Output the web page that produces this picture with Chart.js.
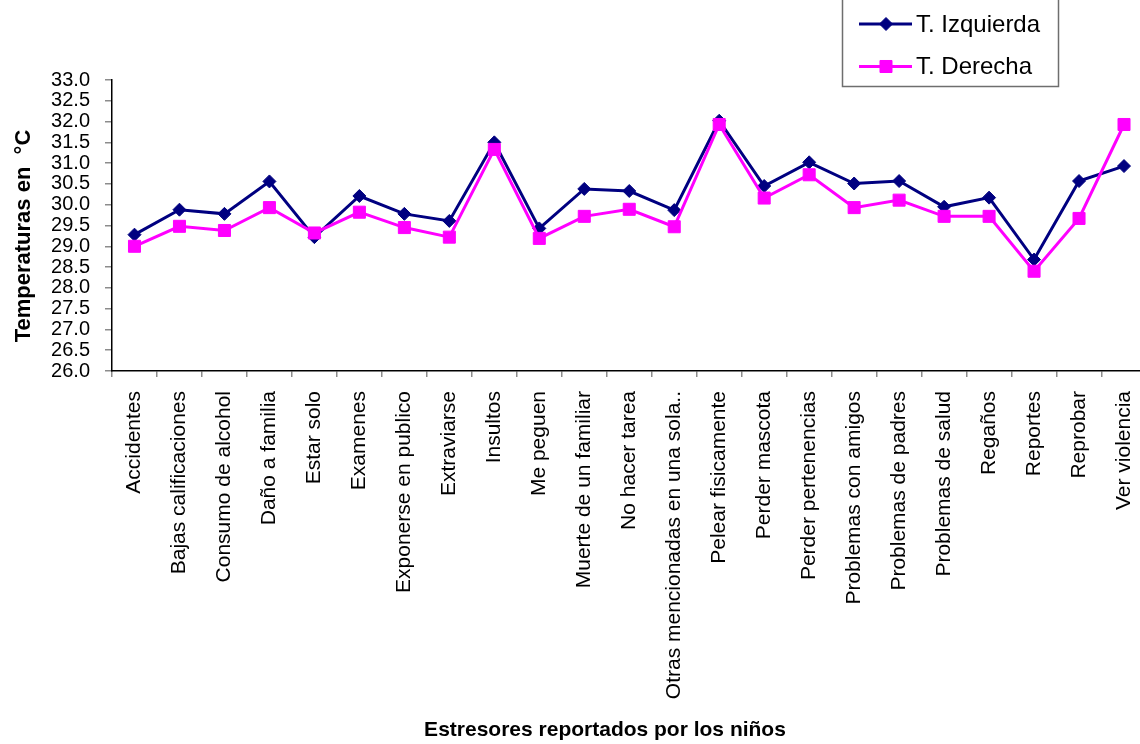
<!DOCTYPE html>
<html>
<head>
<meta charset="utf-8">
<script src="https://cdn.jsdelivr.net/npm/chart.js@4/dist/chart.umd.min.js"></script>
<style>
  html, body { margin: 0; padding: 0; background: #fff; overflow: hidden; }
  #wrap { width: 1156px; height: 744px; }
</style>
</head>
<body>
<div id="wrap"><canvas id="c" width="1156" height="744"></canvas></div>
<script>
// Estresores reportados por los niños (categorías del eje X)
const categories = [
  'Accidentes', 'Bajas calificaciones', 'Consumo de alcohol', 'Daño a familia',
  'Estar solo', 'Examenes', 'Exponerse en publico', 'Extraviarse', 'Insultos',
  'Me peguen', 'Muerte de un familiar', 'No hacer tarea',
  'Otras mencionadas en una sola..', 'Pelear fisicamente', 'Perder mascota',
  'Perder pertenencias', 'Problemas con amigos', 'Problemas de padres',
  'Problemas de salud', 'Regaños', 'Reportes', 'Reprobar', 'Ver violencia'
];

// Temperatura media (°C) por estresor
const izquierda = [29.28, 29.88, 29.78, 30.56, 29.22, 30.21, 29.78, 29.61, 31.50,
  29.43, 30.38, 30.33, 29.87, 32.02, 30.45, 31.02, 30.51, 30.57, 29.95, 30.17,
  28.68, 30.57, 30.93];
const derecha = [29.00, 29.48, 29.38, 29.93, 29.32, 29.82, 29.45, 29.22, 31.33,
  29.19, 29.72, 29.89, 29.47, 31.93, 30.16, 30.72, 29.93, 30.11, 29.72, 29.72,
  28.40, 29.67, 31.93];

const seriesNames = ['T. Izquierda', 'T. Derecha'];
const yTicks = { min: 26, max: 33, step: 0.5 };
const yTitle = 'Temperaturas en  °C';
const xTitle = 'Estresores reportados por los niños';

const FONT = '"Liberation Sans", Arial, Helvetica, sans-serif';
const NAVY = '#000080';
const MAGENTA = '#FF00FF';

// Leyenda con recuadro: línea + marcador de cada serie
const boxLegend = {
  id: 'boxLegend',
  afterDraw(chart) {
    const ctx = chart.ctx;
    ctx.save();
    ctx.strokeStyle = '#6e6e6e';
    ctx.lineWidth = 1.5;
    ctx.strokeRect(842.5, -2, 216, 88.5);
    const rows = [24, 66.5];
    [0, 1].forEach((di, r) => {
      const ds = chart.data.datasets[di];
      const y = rows[r];
      ctx.strokeStyle = ds.borderColor;
      ctx.lineWidth = ds.borderWidth;
      ctx.beginPath();
      ctx.moveTo(859, y);
      ctx.lineTo(912, y);
      ctx.stroke();
      ctx.fillStyle = ds.pointBackgroundColor;
      ctx.strokeStyle = ds.pointBorderColor;
      ctx.lineWidth = 1;
      Chart.helpers.drawPoint(ctx, {
        pointStyle: ds.pointStyle,
        radius: ds.pointRadius,
        borderWidth: 1,
        rotation: 0
      }, 886, y);
      ctx.fillStyle = '#000';
      ctx.font = '24px ' + FONT;
      ctx.textAlign = 'left';
      ctx.textBaseline = 'middle';
      ctx.fillText(ds.label, 916, y + 1);
    });
    ctx.restore();
  }
};

// Títulos de los ejes
const axisTitles = {
  id: 'axisTitles',
  afterDraw(chart) {
    const ctx = chart.ctx;
    ctx.save();
    ctx.fillStyle = '#000';
    ctx.textAlign = 'center';
    ctx.textBaseline = 'middle';
    ctx.font = 'bold 21px ' + FONT;
    ctx.fillText(xTitle, 605, 730);
    ctx.font = 'bold 22px ' + FONT;
    ctx.translate(24, 236);
    ctx.rotate(-Math.PI / 2);
    ctx.fillText(yTitle, 0, 0);
    ctx.restore();
  }
};

new Chart(document.getElementById('c'), {
  type: 'line',
  data: {
    labels: categories,
    datasets: [
      {
        label: seriesNames[0],
        data: izquierda,
        borderColor: NAVY,
        backgroundColor: NAVY,
        pointBackgroundColor: NAVY,
        pointBorderColor: NAVY,
        borderWidth: 3,
        pointStyle: 'rectRot',
        pointRadius: 6.5,
        pointBorderWidth: 1,
        tension: 0,
        order: 1
      },
      {
        label: seriesNames[1],
        data: derecha,
        borderColor: MAGENTA,
        backgroundColor: MAGENTA,
        pointBackgroundColor: MAGENTA,
        pointBorderColor: MAGENTA,
        borderWidth: 3,
        pointStyle: 'rect',
        pointRadius: 8.5,
        pointBorderWidth: 1,
        tension: 0,
        order: 0
      }
    ]
  },
  options: {
    responsive: false,
    animation: false,
    layout: { padding: { top: 80, right: 3, left: 0, bottom: 0 } },
    plugins: {
      legend: { display: false },
      tooltip: { enabled: false },
      title: { display: false }
    },
    scales: {
      x: {
        type: 'category',
        offset: true,
        grid: {
          offset: true,
          drawOnChartArea: false,
          drawTicks: true,
          tickLength: 6,
          color: '#8c8c8c',
          lineWidth: 1.5
        },
        border: { display: true, color: '#000', width: 1.5 },
        ticks: {
          autoSkip: false,
          maxRotation: 90,
          minRotation: 90,
          padding: 14,
          color: '#000',
          font: { family: FONT, size: 21 }
        },
        afterFit(s) { s.height = 373; s.paddingLeft = 0; s.paddingRight = 0; }
      },
      y: {
        min: yTicks.min,
        max: yTicks.max,
        grid: {
          drawOnChartArea: false,
          drawTicks: true,
          tickLength: 7,
          color: '#8c8c8c',
          lineWidth: 1.5
        },
        border: { display: true, color: '#000', width: 1.5 },
        ticks: {
          stepSize: yTicks.step,
          autoSkip: false,
          padding: 15,
          color: '#000',
          font: { family: FONT, size: 20 },
          callback: v => Number(v).toFixed(1)
        },
        afterFit(s) { s.width = 112; s.paddingTop = 0; s.paddingBottom = 0; }
      }
    }
  },
  plugins: [boxLegend, axisTitles]
});
</script>
</body>
</html>
